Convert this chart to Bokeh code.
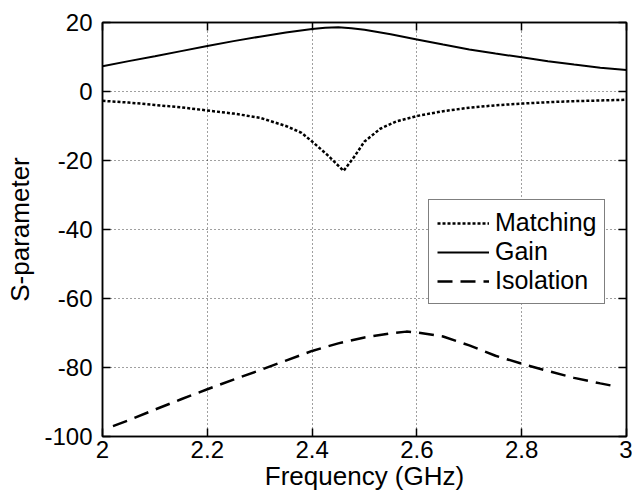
from bokeh.plotting import figure
from bokeh.models import (FixedTicker, CustomJSTickFormatter, LinearAxis, Legend, LegendItem)
from bokeh.embed import file_html
from bokeh.resources import INLINE

# ---- data ----
freq_gain = [2.00, 2.05, 2.10, 2.15, 2.20, 2.25, 2.30, 2.35, 2.40, 2.425, 2.45, 2.475,
             2.50, 2.55, 2.60, 2.65, 2.70, 2.75, 2.80, 2.85, 2.90, 2.95, 3.00]
gain = [7.3, 8.8, 10.2, 11.7, 13.2, 14.6, 15.9, 17.1, 18.1, 18.45, 18.6, 18.35,
        17.9, 16.6, 15.1, 13.6, 12.2, 11.0, 9.9, 8.8, 7.8, 6.9, 6.2]

freq_match = [2.00, 2.05, 2.10, 2.15, 2.20, 2.25, 2.30, 2.35, 2.38, 2.40, 2.43,
              2.46, 2.48, 2.50, 2.53, 2.56, 2.60, 2.65, 2.70, 2.75, 2.80,
              2.85, 2.90, 2.95, 3.00]
matching = [-2.7, -3.2, -3.9, -4.6, -5.5, -6.4, -7.6, -10.0, -12.0, -14.5, -18.5,
            -23.0, -19.0, -14.5, -10.8, -8.7, -7.1, -5.7, -4.7, -4.0, -3.5,
            -3.1, -2.8, -2.6, -2.4]

freq_iso = [2.02, 2.05, 2.10, 2.15, 2.20, 2.25, 2.30, 2.35, 2.40, 2.45, 2.50,
            2.55, 2.58, 2.60, 2.65, 2.70, 2.75, 2.80, 2.85, 2.90, 2.95, 2.98]
isolation = [-97.0, -95.3, -92.2, -89.2, -86.3, -83.5, -80.8, -78.0, -75.2, -73.0, -71.3,
             -70.1, -69.6, -69.8, -71.0, -73.6, -76.6, -78.9, -81.0, -83.0, -84.6, -85.5]

x_ticks = [2.0, 2.2, 2.4, 2.6, 2.8, 3.0]
y_ticks = [-100, -80, -60, -40, -20, 0, 20]

x_label = "Frequency (GHz)"
y_label = "S-parameter"
series_names = ["Matching", "Gain", "Isolation"]

FONT = "Liberation Sans"
TICK_FS = "24px"
LABEL_FS = "26px"

p = figure(width=632, height=495, x_range=(2, 3), y_range=(-100, 20),
           output_backend="svg", toolbar_location=None,
           min_border_left=102, min_border_right=6, min_border_top=22, min_border_bottom=59)

p.background_fill_color = "white"
p.border_fill_color = "white"
p.outline_line_color = "black"
p.outline_line_width = 1.5

fmt = CustomJSTickFormatter(code="return String(Number(tick.toFixed(2)));")

def style_axis(ax, ticks, show_labels):
    ax.ticker = FixedTicker(ticks=ticks, minor_ticks=[])
    ax.axis_line_color = "black"
    ax.axis_line_width = 1.5
    ax.major_tick_line_color = "black"
    ax.major_tick_line_width = 1.5
    ax.major_tick_in = 8
    ax.major_tick_out = 0
    ax.minor_tick_line_color = None
    if show_labels:
        ax.formatter = fmt
        ax.major_label_text_font = FONT
        ax.major_label_text_font_size = TICK_FS
        ax.major_label_text_color = "black"
        ax.axis_label_text_font = FONT
        ax.axis_label_text_font_size = LABEL_FS
        ax.axis_label_text_font_style = "normal"
        ax.axis_label_text_color = "black"
    else:
        ax.major_label_text_color = None
        ax.major_label_text_alpha = 0
        ax.major_label_text_font_size = "1px"
        ax.major_label_standoff = 0

style_axis(p.xaxis[0], x_ticks, True)
style_axis(p.yaxis[0], y_ticks, True)
p.xaxis[0].axis_label = x_label
p.yaxis[0].axis_label = y_label
p.xaxis[0].major_label_standoff = 4
p.xaxis[0].axis_label_standoff = 0
p.yaxis[0].major_label_standoff = 10
p.yaxis[0].axis_label_standoff = 6

top_axis = LinearAxis()
style_axis(top_axis, x_ticks, False)
p.add_layout(top_axis, "above")
right_axis = LinearAxis()
style_axis(right_axis, y_ticks, False)
p.add_layout(right_axis, "right")

p.xgrid.ticker = FixedTicker(ticks=x_ticks)
p.ygrid.ticker = FixedTicker(ticks=y_ticks)
for g in (p.xgrid[0], p.ygrid[0]):
    g.grid_line_color = "black"
    g.grid_line_alpha = 0.75
    g.grid_line_dash = "1 3"
    g.grid_line_width = 1

r_match = p.line(freq_match, matching, line_color="black", line_width=2.5, line_dash="3 2")
r_gain = p.line(freq_gain, gain, line_color="black", line_width=2)
r_iso = p.line(freq_iso, isolation, line_color="black", line_width=2.5, line_dash="15 8")

legend = Legend(items=[LegendItem(label=series_names[0], renderers=[r_match]),
                       LegendItem(label=series_names[1], renderers=[r_gain]),
                       LegendItem(label=series_names[2], renderers=[r_iso])],
                location=(326, 132))
legend.label_text_font = FONT
legend.label_text_font_size = "25px"
legend.label_text_color = "black"
legend.glyph_width = 52
legend.label_standoff = 6
legend.padding = 8
legend.spacing = 0
legend.margin = 0
legend.border_line_color = "black"
legend.border_line_width = 1
legend.background_fill_color = "white"
legend.background_fill_alpha = 1
p.add_layout(legend, "center")

open("out.html", "w").write(file_html(p, INLINE))
